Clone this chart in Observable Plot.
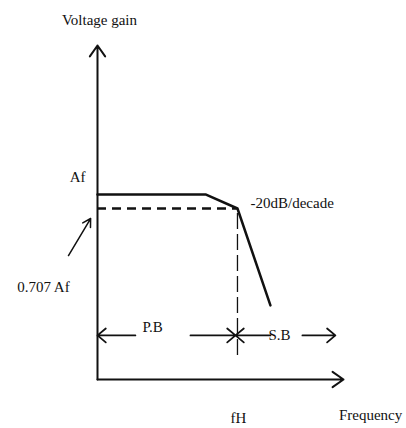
<!DOCTYPE html>
<html>
<head>
<meta charset="utf-8">
<script src="https://cdn.jsdelivr.net/npm/d3@7"></script>
<script src="https://cdn.jsdelivr.net/npm/@observablehq/plot@0.6"></script>
<style>
  html, body { margin: 0; padding: 0; background: #fff; }
  #chart svg { display: block; }
  #chart svg text { font-family: "Liberation Serif", "Times New Roman", serif !important; }
</style>
</head>
<body>
<div id="chart"></div>
<script>
// Diagram coordinates (abstract frequency / gain units, axes run 0..100)
const responseFreq = [0, 43.9, 56.9, 70.3];
const responseGain = [55.4, 55.4, 51.2, 22.2];
const halfPowerGain = 51.2;     // 0.707 Af level
const cutoffFreq = 56.9;        // fH
const cutoffLineBottom = 7.2;
const bandArrowGain = 13.2;
const pbArrows = [{x1: 15.4, x2: 0}, {x1: 37.8, x2: 56.1}];
const sbArrows = [{x1: 70.3, x2: 56.1}, {x1: 83.3, x2: 96.7}];
const pointerArrow = {x1: -11.8, y1: 37.1, x2: -2.8, y2: 48.2};
const labels = [
  {text: "Voltage gain", x: 0.8, y: 107.5, anchor: "middle"},
  {text: "Af", x: -8.1, y: 60.5, anchor: "middle"},
  {text: "0.707 Af", x: -22, y: 27.5, anchor: "middle"},
  {text: "-20dB/decade", x: 62.2, y: 52.7, anchor: "start"},
  {text: "P.B", x: 22.4, y: 15.6, anchor: "middle"},
  {text: "S.B", x: 74, y: 13.2, anchor: "middle"},
  {text: "fH", x: 57.3, y: -11.7, anchor: "middle"},
  {text: "Frequency", x: 111, y: -10.8, anchor: "middle"}
];

const response = responseFreq.map((f, i) => ({f, g: responseGain[i]}));
const textOpts = {x: "x", y: "y", text: "text", fontSize: 15, fill: "#111"};

const chart = Plot.plot({
  width: 406,
  height: 428,
  marginLeft: 97,
  marginRight: 63,
  marginTop: 45,
  marginBottom: 49,
  x: {domain: [0, 100], axis: null},
  y: {domain: [0, 100], axis: null},
  style: {background: "#fff"},
  marks: [
    // axes with arrow heads
    Plot.arrow([{x1: 0, y1: 0, x2: 0, y2: 100}, {x1: 0, y1: 0, x2: 100, y2: 0}], {
      x1: "x1", y1: "y1", x2: "x2", y2: "y2",
      stroke: "#111", strokeWidth: 2, headLength: 10, headAngle: 70
    }),
    // half-power dashed line
    Plot.ruleY([halfPowerGain], {x1: 0, x2: cutoffFreq, stroke: "#111", strokeWidth: 2.5, strokeDasharray: "9,6"}),
    // cutoff vertical dashed line
    Plot.ruleX([cutoffFreq], {y1: cutoffLineBottom, y2: halfPowerGain, stroke: "#111", strokeWidth: 1.3, strokeDasharray: "16,5"}),
    // response curve
    Plot.line(response, {x: "f", y: "g", stroke: "#111", strokeWidth: 2.5}),
    // band arrows
    Plot.arrow(pbArrows.concat(sbArrows), {
      x1: "x1", x2: "x2", y1: () => bandArrowGain, y2: () => bandArrowGain,
      stroke: "#111", strokeWidth: 1.8, headLength: 9, headAngle: 80
    }),
    // pointer to 0.707 Af
    Plot.arrow([pointerArrow], {
      x1: "x1", y1: "y1", x2: "x2", y2: "y2",
      stroke: "#111", strokeWidth: 1.5, headLength: 9, headAngle: 60
    }),
    Plot.text(labels.filter(d => d.anchor === "middle"), {...textOpts, textAnchor: "middle"}),
    Plot.text(labels.filter(d => d.anchor === "start"), {...textOpts, textAnchor: "start"})
  ]
});

document.getElementById("chart").appendChild(chart);
</script>
</body>
</html>
